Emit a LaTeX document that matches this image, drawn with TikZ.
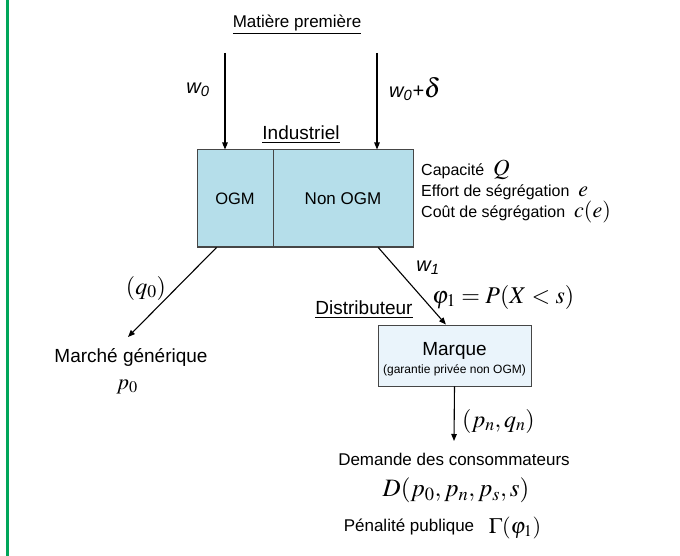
\documentclass[tikz,border=0pt]{standalone}
\usepackage{mathptmx}
\usepackage[no-math]{fontspec}
\setmainfont{Liberation Sans}
\usetikzlibrary{arrows.meta,calc}
\definecolor{boxblue}{RGB}{181,222,234}
\definecolor{paleblue}{RGB}{234,244,251}
\definecolor{edgegray}{RGB}{70,70,70}
\definecolor{sidegreen}{RGB}{0,166,90}
\newcommand{\fsz}[1]{\fontsize{#1}{#1}\selectfont}
\begin{document}
\begin{tikzpicture}[x=1pt,y=-1pt,
  lbl/.style={inner sep=0pt,font=\fsz{17}},
  big/.style={inner sep=0pt,font=\fsz{19}},
  side/.style={inner sep=0pt,anchor=west,font=\fsz{16}},
  mth/.style={inner sep=0pt,font=\fsz{22}},
  wl/.style={inner sep=0pt,font=\fsz{20}\itshape},
  arr/.style={line width=1.1pt,-{Triangle[length=7pt,width=5.5pt]}},
  cell/.style={draw=edgegray,line width=1pt,fill=boxblue,minimum height=97pt,inner sep=0pt,font=\fsz{16.5}}]
\useasboundingbox (0,0) rectangle (680,556);
\fill[white] (0,0) rectangle (680,556);
\draw[sidegreen,line width=3pt] (7,0) -- (7,556);

% top
\node[lbl] (mp) at (297,25) {\underline{Matière première}};
\node[big] (ind) at (301,135) {\underline{Industriel}};

% industriel box
\node[cell,minimum width=76pt] (ogm) at (235,198.5) {OGM};
\node[cell,minimum width=140pt,font=\fsz{17}] (nogm) at (343,198.5) {Non OGM};

\coordinate (a1) at (225,53);
\coordinate (a2) at (377,53);
\draw[arr] (a1) -- (a1 |- ogm.north);
\draw[arr] (a2) -- (a2 |- nogm.north);
\node[wl] (w0) at (198,90) {w\textsubscript{0}};
\node[wl,anchor=west] (w0d) at (389,89) {w\textsubscript{0}+{\fsz{27}$\delta$}};

% side texts
\node[side] (cap) at (421,170) {Capacité \ {\fsz{23}$Q$}};
\node[side] (eff) at (421,192) {Effort de ségrégation \ {\fsz{22}$e$}};
\node[side] (cout) at (421,212) {Coût de ségrégation \ {\fsz{22}$c(e)$}};

% generic market
\coordinate (s1) at ($(ogm.south west)!0.26!(ogm.south east)$);
\coordinate (mgtip) at (128,337);
\draw[arr] (s1) -- (mgtip);
\node[mth,font=\fsz{24}] (q0) at (146,288) {$(q_0)$};
\node[big] (mg) at (131,357) {Marché générique};
\node[mth] (p0) at (127,387) {$p_0$};

% distributor
\node[draw=edgegray,line width=0.9pt,fill=paleblue,minimum width=153pt,minimum height=61pt,inner sep=0pt] (mq) at (454.5,355.5) {};
\node[big] (mqt) at (454.5,351) {Marque};
\node[inner sep=0pt,font=\fsz{12}] (gar) at (454.5,370) {(garantie privée non OGM)};
\coordinate (s2) at ($(nogm.south west)!0.75!(nogm.south east)$);
\coordinate (t2) at ($(mq.north west)!0.444!(mq.north east)$);
\draw[arr] (s2) -- (t2);
\node[wl] (w1) at (428,268) {w\textsubscript{1}};
\node[mth,anchor=west,font=\fsz{24}] (phi) at (432,297) {$\varphi_1 = P(X < s)$};
\node[big] (dist) at (364,310) {\underline{Distributeur}};

% demand
\coordinate (dtip) at (454,441);
\draw[arr] (mq.south) -- (dtip);
\node[mth,anchor=west,font=\fsz{24}] (pq) at (462,421) {$(p_n,q_n)$};
\node[lbl] (dem) at (454,459) {Demande des consommateurs};
\node[mth,font=\fsz{25}] (D) at (456,490) {$D(p_0,p_n,p_s,s)$};
\node[lbl] (pen) at (409,527) {Pénalité publique};
\node[mth] (gam) at (515,528) {$\Gamma(\varphi_1)$};
\end{tikzpicture}
\end{document}
